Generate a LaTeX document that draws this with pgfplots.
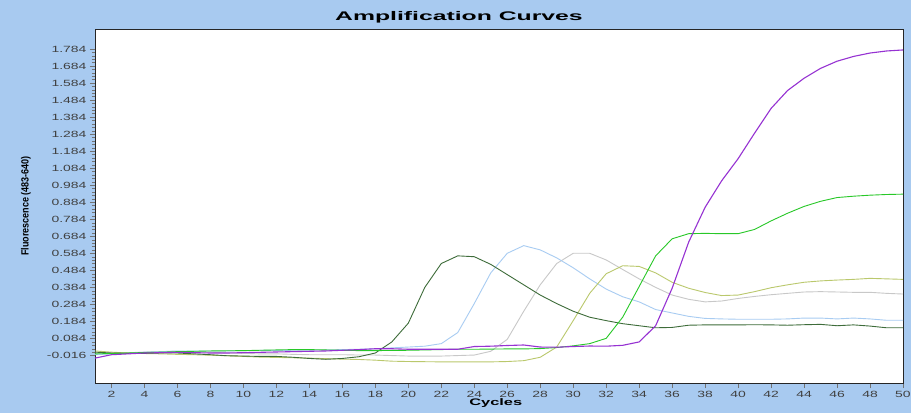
\documentclass[border=0pt]{standalone}
\usepackage{fontspec}
\setmainfont{Liberation Sans}
\newfontfamily\tickfont[FakeStretch=1.55]{Liberation Sans}
\usepackage{pgfplots}
\usepackage{pgfplotstable}
\pgfplotsset{compat=1.18}
\definecolor{bgblue}{RGB}{168,202,240}
\definecolor{cdg}{RGB}{62,108,58}
\definecolor{clb}{RGB}{168,204,242}
\definecolor{cgr}{RGB}{200,200,200}
\definecolor{cyg}{RGB}{186,200,108}
\definecolor{cbg}{RGB}{40,200,40}
\definecolor{cpu}{RGB}{150,50,210}
\pgfplotstableread{
cyc dg lb gr yg bg pu
1 0.005 -0.010 0.000 0.012 -0.005 -0.030
2 0.000 -0.005 0.000 0.005 -0.003 -0.010
3 -0.002 0.000 0.002 0.000 0.000 -0.005
4 -0.002 0.005 0.005 -0.003 0.003 0.000
5 0.000 0.008 0.008 -0.005 0.005 0.002
6 0.000 0.012 0.010 -0.008 0.008 0.004
7 -0.005 0.012 0.008 -0.010 0.010 0.002
8 -0.010 0.012 0.005 -0.013 0.012 0.000
9 -0.016 0.012 0.000 -0.016 0.013 0.000
10 -0.018 0.014 -0.002 -0.020 0.014 0.002
11 -0.020 0.015 -0.005 -0.024 0.016 0.004
12 -0.020 0.015 -0.005 -0.026 0.018 0.006
13 -0.025 0.016 -0.008 -0.028 0.020 0.008
14 -0.032 0.017 -0.010 -0.030 0.020 0.010
15 -0.037 0.018 -0.010 -0.033 0.018 0.012
16 -0.032 0.020 -0.010 -0.036 0.016 0.016
17 -0.022 0.022 -0.012 -0.038 0.014 0.020
18 0.000 0.025 -0.012 -0.042 0.014 0.025
19 0.065 0.030 -0.015 -0.048 0.015 0.025
20 0.175 0.035 -0.018 -0.050 0.016 0.022
21 0.385 0.040 -0.018 -0.051 0.018 0.022
22 0.525 0.055 -0.018 -0.052 0.020 0.022
23 0.570 0.120 -0.015 -0.052 0.022 0.022
24 0.565 0.290 -0.012 -0.052 0.022 0.038
25 0.520 0.470 0.010 -0.052 0.023 0.040
26 0.460 0.585 0.080 -0.050 0.024 0.044
27 0.400 0.630 0.245 -0.045 0.024 0.047
28 0.340 0.605 0.400 -0.025 0.026 0.035
29 0.290 0.558 0.525 0.035 0.032 0.034
30 0.245 0.500 0.585 0.190 0.042 0.038
31 0.210 0.435 0.585 0.350 0.055 0.041
32 0.190 0.375 0.546 0.465 0.086 0.040
33 0.172 0.330 0.490 0.512 0.210 0.045
34 0.160 0.300 0.435 0.508 0.390 0.065
35 0.148 0.255 0.385 0.470 0.570 0.160
36 0.150 0.235 0.340 0.415 0.670 0.380
37 0.163 0.215 0.315 0.380 0.700 0.650
38 0.165 0.203 0.300 0.355 0.702 0.855
39 0.165 0.200 0.305 0.337 0.700 1.010
40 0.165 0.198 0.320 0.340 0.700 1.140
41 0.166 0.198 0.332 0.360 0.725 1.290
42 0.165 0.198 0.342 0.383 0.775 1.435
43 0.163 0.200 0.350 0.400 0.820 1.540
44 0.166 0.205 0.358 0.415 0.860 1.612
45 0.168 0.205 0.360 0.423 0.890 1.670
46 0.160 0.200 0.358 0.428 0.912 1.712
47 0.165 0.205 0.356 0.432 0.920 1.740
48 0.158 0.200 0.356 0.438 0.926 1.760
49 0.148 0.192 0.350 0.435 0.930 1.772
50 0.148 0.192 0.346 0.432 0.932 1.778
}\curves
\begin{document}
\begin{tikzpicture}
\useasboundingbox (-95pt,-30pt) rectangle (816pt,383pt);
\fill[bgblue] (-95pt,-30pt) rectangle (816pt,383pt);
\begin{axis}[
  at={(0pt,0pt)}, anchor=south west,
  scale only axis, width=808pt, height=354pt,
  xmin=1, xmax=50, ymin=-0.176, ymax=1.901,
  axis background/.style={fill=white},
  axis line style={black!85, line width=0.8pt},
  xtick={2,4,...,50},
  ytick={-0.016,0.084,0.184,0.284,0.384,0.484,0.584,0.684,0.784,0.884,0.984,1.084,1.184,1.284,1.384,1.484,1.584,1.684,1.784},
  yticklabels={-0.016,0.084,0.184,0.284,0.384,0.484,0.584,0.684,0.784,0.884,0.984,1.084,1.184,1.284,1.384,1.484,1.584,1.684,1.784},
  minor y tick num=4,
  tick align=outside, xtick pos=bottom, ytick pos=left,
  major tick length=5pt, minor tick length=3pt,
  tick style={black!55, line width=0.5pt},
  tick label style={font=\tickfont\fontsize{9}{10}\selectfont, text=black!75},
  /pgf/number format/assume math mode=true,
  title={\scalebox{1.98}[1]{Amplification Curves}},
  title style={at={(axis description cs:0.4505,1)}, anchor=center, yshift=6pt, font=\bfseries\fontsize{12.5}{14}\selectfont},
  xlabel={\scalebox{1.73}[1]{Cycles}},
  xlabel style={at={(axis description cs:0.496,0)}, anchor=center, yshift=-20pt, font=\bfseries\fontsize{9.5}{11}\selectfont},
  ylabel={\scalebox{0.95}[1.1]{Fluorescence (483-640)}},
  ylabel style={at={(axis description cs:-0.0855,0.5)}, anchor=center, font=\bfseries\fontsize{9.5}{11}\selectfont},
]
\addplot[cgr, line width=0.9pt] table[x=cyc, y=gr] {\curves};
\addplot[clb, line width=0.9pt] table[x=cyc, y=lb] {\curves};
\addplot[cyg, line width=0.9pt] table[x=cyc, y=yg] {\curves};
\addplot[cdg, line width=0.9pt] table[x=cyc, y=dg] {\curves};
\addplot[cbg, line width=0.9pt] table[x=cyc, y=bg] {\curves};
\addplot[cpu, line width=1.1pt] table[x=cyc, y=pu] {\curves};
\end{axis}
\end{tikzpicture}
\end{document}
